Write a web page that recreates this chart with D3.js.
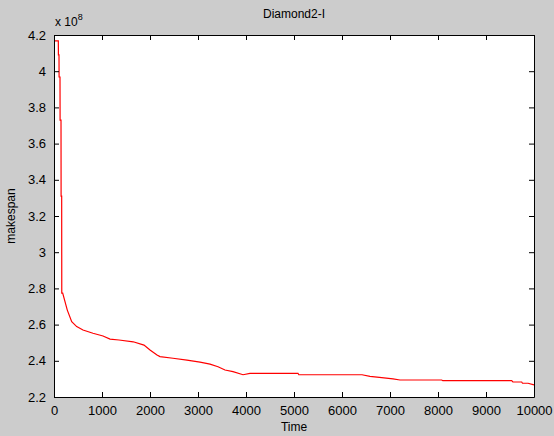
<!DOCTYPE html>
<html>
<head>
<meta charset="utf-8">
<script src="https://cdn.jsdelivr.net/npm/d3@7"></script>
<style>
  body { margin: 0; background: #cccccc; }
  svg { display: block; }
  text { font-family: Arial, "Liberation Sans", sans-serif; fill: #000; }
</style>
</head>
<body>
<script>
//chart values (makespan in units of 1e8)
var times = [0, 90, 92, 104, 106, 125, 127, 146, 148, 160, 162, 181, 277, 369, 473, 604, 812, 1021, 1167, 1354,
             1650, 1875, 2000, 2146, 2208, 2479, 2770, 3042, 3250, 3417, 3563, 3729, 3938, 4083, 5083, 5100,
             6417, 6583, 6827, 7063, 7208, 8077, 8100, 9535, 9560, 9744, 9760, 9875, 10000];
var makespan = [4.167, 4.167, 4.09, 4.09, 3.968, 3.968, 3.73, 3.73, 3.31, 3.31, 2.774, 2.774, 2.68, 2.616, 2.589, 2.57, 2.552, 2.537, 2.52, 2.515,
                2.505, 2.487, 2.46, 2.432, 2.423, 2.414, 2.404, 2.393, 2.382, 2.367, 2.349, 2.34, 2.323, 2.331, 2.331, 2.323,
                2.323, 2.314, 2.307, 2.30, 2.294, 2.294, 2.29, 2.29, 2.283, 2.283, 2.276, 2.276, 2.267];
var xTicks = [0, 1000, 2000, 3000, 4000, 5000, 6000, 7000, 8000, 9000, 10000];
var yTicks = [2.2, 2.4, 2.6, 2.8, 3, 3.2, 3.4, 3.6, 3.8, 4, 4.2];

drawChart();

function drawChart(){

    var width = 554,
        height = 436;

    //plot box edges
    var pLeft = 54, pRight = 534, pTop = 35, pBottom = 397;

    var svg = d3.select("body")
        .append("svg")
        .attr("width", width)
        .attr("height", height);

    svg.append("rect")
        .attr("width", width)
        .attr("height", height)
        .attr("fill", "#cccccc");

    var x = d3.scaleLinear().domain([0, 10000]).range([pLeft, pRight]);
    var y = d3.scaleLinear().domain([2.2, 4.2]).range([pBottom, pTop]);

    //white axes area
    svg.append("rect")
        .attr("x", pLeft)
        .attr("y", pTop)
        .attr("width", pRight - pLeft)
        .attr("height", pBottom - pTop)
        .attr("fill", "#ffffff");

    //line
    var line = d3.line()
        .x(function(d){ return x(d[0]); })
        .y(function(d){ return y(d[1]); });

    var pts = times.map(function(t, i){ return [t, makespan[i]]; });

    svg.append("path")
        .datum(pts)
        .attr("d", line)
        .attr("fill", "none")
        .attr("stroke", "#ff0000")
        .attr("stroke-width", 1.2);

    //axes with inward ticks, matlab style
    var fmt = function(d){ return String(d); };

    svg.append("g")
        .attr("transform", "translate(0," + pBottom + ")")
        .call(d3.axisBottom(x).tickValues(xTicks).tickFormat(fmt).tickSizeInner(-5).tickSizeOuter(0).tickPadding(9));

    svg.append("g")
        .attr("transform", "translate(0," + pTop + ")")
        .call(d3.axisTop(x).tickValues(xTicks).tickFormat("").tickSizeInner(-5).tickSizeOuter(0));

    svg.append("g")
        .attr("transform", "translate(" + pLeft + ",0)")
        .call(d3.axisLeft(y).tickValues(yTicks).tickFormat(fmt).tickSizeInner(-5).tickSizeOuter(0).tickPadding(8));

    svg.append("g")
        .attr("transform", "translate(" + pRight + ",0)")
        .call(d3.axisRight(y).tickValues(yTicks).tickFormat("").tickSizeInner(-5).tickSizeOuter(0));

    svg.selectAll(".domain").attr("stroke", "#000").attr("stroke-width", 1);
    svg.selectAll(".tick line").attr("stroke", "#000");
    svg.selectAll(".tick text")
        .style("font-size", "13px")
        .style("font-family", "Arial, 'Liberation Sans', sans-serif")
        .attr("fill", "#000");

    //exponent label
    var expo = svg.append("text")
        .attr("x", pLeft + 1)
        .attr("y", 26)
        .style("font-size", "12px");
    expo.append("tspan").text("x 10");
    expo.append("tspan")
        .attr("dy", -6)
        .style("font-size", "9px")
        .text("8");

    //title
    svg.append("text")
        .attr("x", (pLeft + pRight) / 2)
        .attr("y", 18)
        .attr("text-anchor", "middle")
        .style("font-size", "12px")
        .text("Diamond2-I");

    //axis labels
    svg.append("text")
        .attr("x", (pLeft + pRight) / 2)
        .attr("y", 431)
        .attr("text-anchor", "middle")
        .style("font-size", "12px")
        .text("Time");

    svg.append("text")
        .attr("transform", "translate(15," + ((pTop + pBottom) / 2) + ") rotate(-90)")
        .attr("text-anchor", "middle")
        .style("font-size", "12px")
        .text("makespan");
};
</script>
</body>
</html>
